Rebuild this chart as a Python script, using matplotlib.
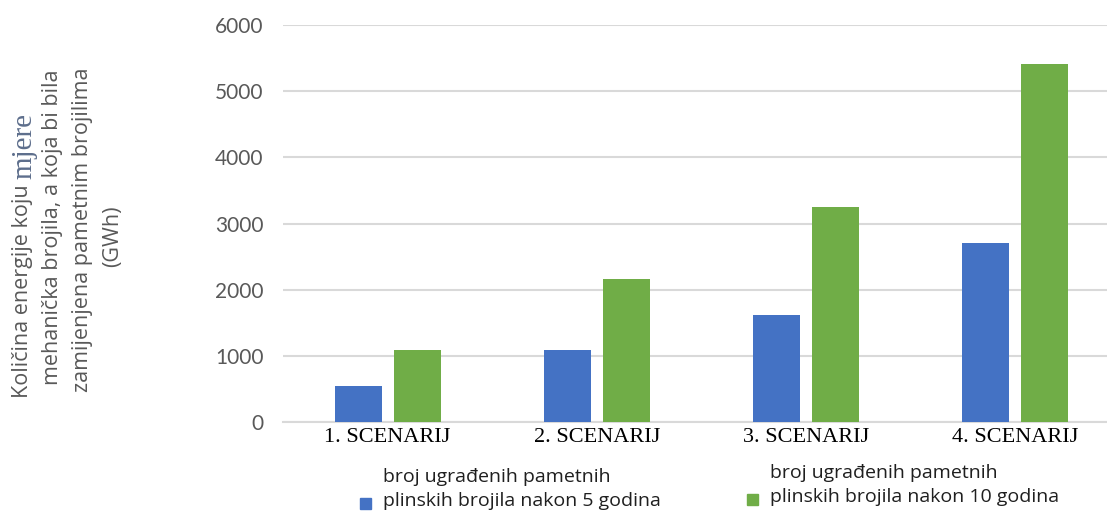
import matplotlib
matplotlib.use("Agg")
import matplotlib.pyplot as plt
import numpy as np
from matplotlib.patches import Patch, Rectangle
from matplotlib.legend_handler import HandlerPatch

categories = ["1. SCENARIJ", "2. SCENARIJ", "3. SCENARIJ", "4. SCENARIJ"]
series_5y = [541, 1082, 1623, 2705]
series_10y = [1082, 2164, 3246, 5410]
label_5y = "broj ugrađenih pametnih\nplinskih brojila nakon 5 godina"
label_10y = "broj ugrađenih pametnih\nplinskih brojila nakon 10 godina"
yticks = [0, 1000, 2000, 3000, 4000, 5000, 6000]

BLUE = "#4472C4"
GREEN = "#70AD47"
GRID = "#D9D9D9"
GRAY = "#595959"
TICKFONT = ["Lato", "DejaVu Sans"]
SANS = ["Open Sans", "DejaVu Sans"]
SERIF = ["Liberation Serif", "DejaVu Serif"]

W, H = 1107, 511
fig = plt.figure(figsize=(W / 100, H / 100), dpi=100)

def px(x, y):
    return x / W, 1 - y / H

ax_left, ax_right, ax_top, ax_bot = 283, 1120, 25, 422
ax = fig.add_axes([ax_left / W, 1 - ax_bot / H, (ax_right - ax_left) / W, (ax_bot - ax_top) / H])

x = np.arange(len(categories))
bw = 0.225
off = 0.141
ax.bar(x - off, series_5y, bw, color=BLUE, zorder=3)
ax.bar(x + off, series_10y, bw, color=GREEN, zorder=3)

ax.set_xlim(-0.5, 3.5)
ax.set_ylim(0, 6000)
ax.set_yticks(yticks)
ax.set_yticklabels([str(v) for v in yticks], fontsize=15, color=GRAY, family=TICKFONT)
ax.set_xticks(x)
ax.set_xticklabels(categories, fontsize=16, color="black", family=SERIF)
ax.tick_params(axis="both", length=0)
ax.tick_params(axis="y", pad=14)
ax.tick_params(axis="x", pad=4)
for s in ["top", "right", "left"]:
    ax.spines[s].set_visible(False)
ax.spines["bottom"].set_color(GRID)
ax.spines["bottom"].set_linewidth(1.5)
ax.yaxis.grid(True, color=GRID, linewidth=1.5, zorder=0)
ax.set_axisbelow(True)

# y-axis label, built line by line (rotated, baseline-anchored)
fig.canvas.draw()
r = fig.canvas.get_renderer()
fs_lab = 15.5
kw = dict(rotation=90, rotation_mode="anchor", ha="left", va="baseline",
          fontsize=fs_lab, color=GRAY, family=SANS)
t1 = fig.text(*px(28, 398), "Količina energije koju ", **kw)
bb = t1.get_window_extent(r)
fig.text(31, bb.y1, "mjere", rotation=90, rotation_mode="anchor", ha="left", va="baseline",
         fontsize=21, color="#5D6E8C", family=SERIF, transform=None)
fig.text(*px(58, 385), "mehanička brojila, a koja bi bila", **kw)
fig.text(*px(88, 392), "zamijenjena pametnim brojilima", **kw)
kw4 = dict(kw, ha="center")
fig.text(*px(118, 236), "(GWh)", **kw4)

# legend (two single-entry legends, square aligned with the lower text line)
LEG_FS = 14
SHIFT = 10.2  # points

def low_square(legend, orig_handle, xdescent, ydescent, width, height, fontsize):
    return Rectangle((-xdescent, -ydescent - SHIFT), width, width)

def add_entry(color, label, xy):
    lg = fig.legend(handles=[Patch(color=color, label=label)],
                    handler_map={Patch: HandlerPatch(patch_func=low_square)},
                    loc="upper left", bbox_to_anchor=px(*xy), frameon=False,
                    prop={"family": SANS, "size": LEG_FS}, labelcolor="#1F1F1F",
                    handlelength=0.57, handleheight=0.57, handletextpad=0.62,
                    borderpad=0, borderaxespad=0)
    for t in lg.get_texts():
        t.set_linespacing(1.45)
    return lg

add_entry(BLUE, label_5y, (360, 468))
add_entry(GREEN, label_10y, (747, 464))

fig.savefig("out.png", dpi=100)
